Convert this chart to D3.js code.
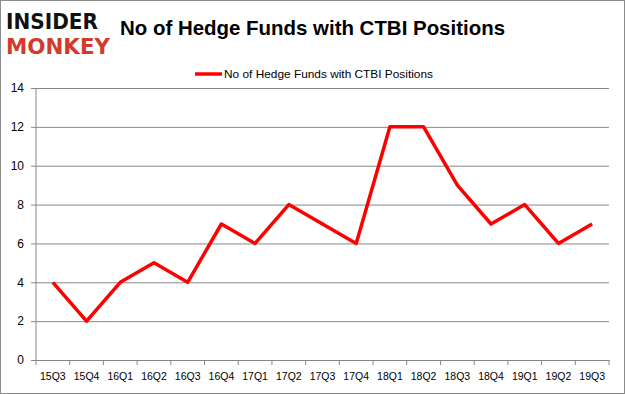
<!DOCTYPE html>
<html>
<head>
<meta charset="utf-8">
<script src="https://cdn.jsdelivr.net/npm/d3@7"></script>
<style>
  body { margin: 0; background: #fff; }
  svg { display: block; }
</style>
</head>
<body>
<svg id="chart" width="625" height="394"></svg>
<script>
var quarters = ["15Q3","15Q4","16Q1","16Q2","16Q3","16Q4","17Q1","17Q2","17Q3","17Q4","18Q1","18Q2","18Q3","18Q4","19Q1","19Q2","19Q3"];
var funds = [4, 2, 4, 5, 4, 7, 6, 8, 7, 6, 12, 12, 9, 7, 8, 6, 7];
var yTicks = [0, 2, 4, 6, 8, 10, 12, 14];
var seriesName = "No of Hedge Funds with CTBI Positions";

var svg = d3.select("#chart"),
    margin = {top: 88, right: 16, bottom: 34, left: 36},
    width = +svg.attr("width") - margin.left - margin.right,
    height = +svg.attr("height") - margin.top - margin.bottom;

svg.append("rect")
    .attr("x", 0.5).attr("y", 0.5)
    .attr("width", 624).attr("height", 393)
    .attr("fill", "#fff").attr("stroke", "#8c8c8c");

var g = svg.append("g").attr("transform", "translate(" + margin.left + "," + margin.top + ")");

var x = d3.scaleBand().domain(quarters).range([0, width]);
var y = d3.scaleLinear().domain([0, 14]).range([height, 0]);

// gridlines + y axis
var yAxis = d3.axisLeft(y).tickValues(yTicks).tickSize(-width).tickPadding(8);
g.append("g").call(function(a) {
  a.call(yAxis);
  a.select(".domain").remove();
  a.selectAll(".tick line").attr("stroke", "#878787").attr("x1", -5);
  a.selectAll(".tick text").attr("fill", "#000").attr("font-family", "Liberation Sans, Arial").attr("font-size", 12).attr("x", -12);
});
g.append("line").attr("x1", 0).attr("x2", 0).attr("y1", 0).attr("y2", height).attr("stroke", "#878787");

// x axis with ticks at band edges
var xAxis = d3.axisBottom(x).tickSize(0).tickPadding(13);
g.append("g").attr("transform", "translate(0," + height + ")").call(function(a) {
  a.call(xAxis);
  a.select(".domain").attr("stroke", "#878787");
  a.selectAll(".tick text").attr("fill", "#000").attr("font-family", "Liberation Sans, Arial").attr("font-size", 10.5);
});
g.append("g").selectAll("line").data(quarters.concat([null])).enter().append("line")
    .attr("x1", function(d, i) { return i * x.bandwidth(); })
    .attr("x2", function(d, i) { return i * x.bandwidth(); })
    .attr("y1", height).attr("y2", height + 5)
    .attr("stroke", "#878787");

var line = d3.line()
    .x(function(d, i) { return x(quarters[i]) + x.bandwidth() / 2; })
    .y(function(d) { return y(d); });

g.append("path")
    .datum(funds)
    .attr("fill", "none")
    .attr("stroke", "#ff0000")
    .attr("stroke-width", 3.5)
    .attr("stroke-linejoin", "round")
    .attr("d", line);

// title
svg.append("text")
    .attr("x", 120).attr("y", 35)
    .attr("textLength", 385).attr("lengthAdjust", "spacingAndGlyphs")
    .attr("font-family", "Liberation Sans, Arial").attr("font-weight", "bold").attr("font-size", 21)
    .text("No of Hedge Funds with CTBI Positions");

// legend
svg.append("line").attr("x1", 195).attr("x2", 222).attr("y1", 74).attr("y2", 74)
    .attr("stroke", "#ff0000").attr("stroke-width", 3.5);
svg.append("text")
    .attr("x", 224).attr("y", 78)
    .attr("textLength", 209).attr("lengthAdjust", "spacingAndGlyphs")
    .attr("font-family", "Liberation Sans, Arial").attr("font-size", 11.5)
    .text(seriesName);

// logo
svg.append("text")
    .attr("x", 6).attr("y", 29)
    .attr("textLength", 92).attr("lengthAdjust", "spacingAndGlyphs")
    .attr("font-family", "DejaVu Sans").attr("font-weight", "bold").attr("font-size", 21)
    .attr("fill", "#111")
    .text("INSIDER");
svg.append("text")
    .attr("x", 6).attr("y", 54)
    .attr("textLength", 104).attr("lengthAdjust", "spacingAndGlyphs")
    .attr("font-family", "DejaVu Sans").attr("font-weight", "bold").attr("font-size", 21)
    .attr("fill", "#d13b2c")
    .text("MONKEY");
</script>
</body>
</html>
